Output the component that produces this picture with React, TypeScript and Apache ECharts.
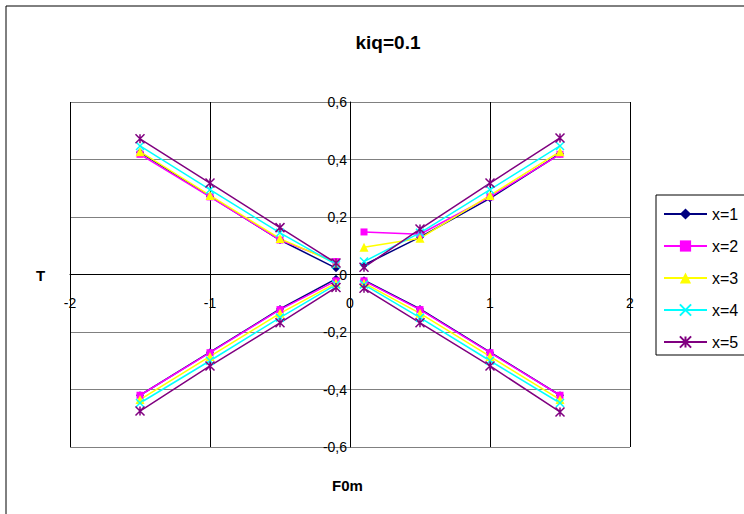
import React, { useEffect, useRef } from "react";
import * as echarts from "echarts";

const chartTitle = "kiq=0.1";
const xTitle = "F0m";
const yTitle = "T";
const seriesNames = ["x=1", "x=2", "x=3", "x=4", "x=5"];
const seriesColors = ["#000080", "#FF00FF", "#FFFF00", "#00FFFF", "#800080"];

const fLeft = [-1.5, -1, -0.5, -0.1];
const fRight = [0.1, 0.5, 1, 1.5];

// upper-left, upper-right, lower-left, lower-right branches
const x1UL = [0.425, 0.272, 0.12, 0.022];
const x1UR = [0.033, 0.13, 0.265, 0.42];
const x1LL = [-0.42, -0.27, -0.12, -0.015];
const x1LR = [-0.02, -0.12, -0.27, -0.42];

const x2UL = [0.418, 0.27, 0.12, 0.045];
const x2UR = [0.148, 0.14, 0.27, 0.418];
const x2LL = [-0.42, -0.272, -0.122, -0.022];
const x2LR = [-0.022, -0.122, -0.272, -0.42];

const x3UL = [0.427, 0.275, 0.125, 0.04];
const x3UR = [0.095, 0.126, 0.275, 0.427];
const x3LL = [-0.435, -0.285, -0.135, -0.03];
const x3LR = [-0.03, -0.135, -0.285, -0.435];

const x4UL = [0.447, 0.295, 0.145, 0.035];
const x4UR = [0.045, 0.145, 0.295, 0.447];
const x4LL = [-0.447, -0.3, -0.15, -0.035];
const x4LR = [-0.035, -0.15, -0.3, -0.447];

const x5UL = [0.472, 0.318, 0.163, 0.04];
const x5UR = [0.025, 0.158, 0.318, 0.475];
const x5LL = [-0.475, -0.318, -0.168, -0.045];
const x5LR = [-0.048, -0.168, -0.318, -0.478];

const branches = [
  [x1UL, x1UR, x1LL, x1LR],
  [x2UL, x2UR, x2LL, x2LR],
  [x3UL, x3UR, x3LL, x3LR],
  [x4UL, x4UR, x4LL, x4LR],
  [x5UL, x5UR, x5LL, x5LR],
];

const symbols = [
  "diamond",
  "rect",
  "triangle",
  "path://M0,0L10,10M10,0L0,10",
  "path://M0,0L10,10M10,0L0,10M5,0L5,10",
];
const symbolSizes = [8, 7, 9, 8, 9];

const FONT = "Arial, 'Liberation Sans', sans-serif";

function buildData(b: number[][]) {
  const [ul, ur, ll, lr] = b;
  const gap: any = ["-", "-"];
  return [
    ...fLeft.map((f, i) => [f, ul[i]]),
    gap,
    ...fRight.map((f, i) => [f, ur[i]]),
    gap,
    ...fLeft.map((f, i) => [f, ll[i]]),
    gap,
    ...fRight.map((f, i) => [f, lr[i]]),
  ];
}

const W = 744;
const H = 514;
const GRID_LEFT = 70;
const GRID_RIGHT = 114;
const GRID_TOP = 102;
const GRID_BOTTOM = 67;
const GRID_W = W - GRID_LEFT - GRID_RIGHT;
const GRID_H = H - GRID_TOP - GRID_BOTTOM;

export default function App() {
  const ref = useRef<HTMLDivElement>(null);
  useEffect(() => {
    if (!ref.current) return;
    const chart = echarts.init(ref.current, null, { renderer: "svg" });
    const series = seriesNames.map((name, k) => {
      const isStroke = k >= 3;
      return {
        name,
        type: "line",
        data: buildData(branches[k]),
        connectNulls: false,
        symbol: symbols[k],
        symbolSize: symbolSizes[k],
        showAllSymbol: true,
        lineStyle: { color: seriesColors[k], width: 1.5 },
        itemStyle: {
          color: seriesColors[k],
          borderColor: seriesColors[k],
          borderWidth: isStroke ? 1.5 : 0,
        },
        emphasis: { disabled: true },
      };
    });
    chart.setOption({
      animation: false,
      title: {
        text: chartTitle,
        left: 383,
        top: 28,
        textAlign: "center",
        textStyle: { fontFamily: FONT, fontSize: 19, fontWeight: "bold", color: "#000" },
      },
      grid: { left: GRID_LEFT, right: GRID_RIGHT, top: GRID_TOP, bottom: GRID_BOTTOM, containLabel: false },
      legend: {
        orient: "vertical",
        left: 656,
        top: 195,
        padding: [11, 0, 5, 7],
        itemWidth: 43,
        itemHeight: 14,
        itemGap: 16,
        borderWidth: 0,
        textStyle: { fontFamily: FONT, fontSize: 16, lineHeight: 14, color: "#000" },
        data: seriesNames,
      },
      xAxis: {
        type: "value",
        min: -2,
        max: 2,
        interval: 1,
        offset: -GRID_H / 2,
        axisLine: { onZero: false, lineStyle: { color: "#000", width: 1 } },
        axisTick: { show: false },
        axisLabel: { margin: 21, fontFamily: FONT, fontSize: 14, color: "#000" },
        splitLine: { show: true, lineStyle: { color: "#000", width: 1 } },
      },
      yAxis: {
        type: "value",
        min: -0.6,
        max: 0.6,
        interval: 0.2,
        offset: -GRID_W / 2,
        axisLine: { onZero: false, lineStyle: { color: "#000", width: 1 } },
        axisTick: { show: false },
        axisLabel: {
          margin: 3,
          fontFamily: FONT,
          fontSize: 14,
          color: "#000",
          formatter: (v: number) => (Math.abs(v) < 1e-9 ? "0" : v.toFixed(1).replace(".", ",")),
        },
        splitLine: { show: true, lineStyle: { color: "#808080", width: 1 } },
      },
      graphic: [
        {
          type: "rect",
          shape: { x: 6, y: 6, width: 780, height: 540 },
          style: { fill: "none", stroke: "#000", lineWidth: 1 },
          silent: true,
          z: -10,
        },
        {
          type: "rect",
          shape: { x: 656, y: 195, width: 120, height: 160 },
          style: { fill: "#fff", stroke: "#000", lineWidth: 1 },
          silent: true,
          z: -5,
        },
        {
          type: "text",
          left: 36,
          top: 268,
          style: { text: yTitle, font: `bold 15px ${FONT}`, fill: "#000" },
        },
        {
          type: "text",
          left: 332,
          top: 478,
          style: { text: xTitle, font: `bold 15px ${FONT}`, fill: "#000" },
        },
      ],
      series,
    });
    return () => chart.dispose();
  }, []);
  return (
    <div
      ref={ref}
      style={{ position: "absolute", left: 0, top: 0, width: W, height: H }}
    />
  );
}
